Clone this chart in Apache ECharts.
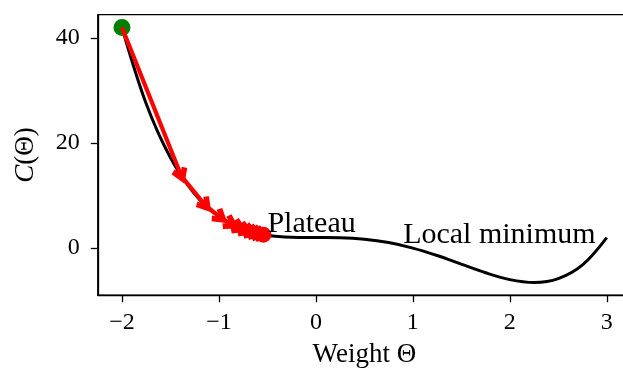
<!DOCTYPE html>
<html>
<head>
<meta charset="utf-8">
<script src="https://cdn.jsdelivr.net/npm/echarts@6/dist/echarts.min.js"></script>
<style>
  html, body { margin: 0; padding: 0; background: #fff; }
  #chart { width: 623px; height: 372px; }
</style>
</head>
<body>
<div id="chart"></div>
<script>
// Cost curve C(Θ), sampled along the weight axis
const curveTheta = [-2, -1.75, -1.5, -1.25, -1, -0.75, -0.5, -0.25, 0, 0.25, 0.5, 0.75, 1, 1.25, 1.5, 1.75, 2, 2.25, 2.5, 2.75, 3];
const curveCost  = [42, 27.46, 17.19, 10.30, 6, 3.58, 2.44, 2.05, 2, 1.96, 1.69, 1.05, 0, -1.42, -3.06, -4.70, -6, -6.54, -5.81, -3.20, 2];

// Gradient descent iterates (weight, cost)
const stepTheta = [-2, -1.388, -1.136, -0.979, -0.868, -0.783, -0.716, -0.661, -0.615, -0.576, -0.542];
const stepCost  = [42, 13.73, 8.06, 5.73, 4.53, 3.82, 3.36, 3.06, 2.84, 2.68, 2.56];

// Axis ticks
const xTicks = [-2, -1, 0, 1, 2, 3];
const yTicks = [0, 20, 40];

// Annotations
const notes = [
  { name: 'Plateau', theta: -0.5, cost: 3 },
  { name: 'Local minimum', theta: 0.9, cost: 1 }
];

const FONT = '"Liberation Serif", "Times New Roman", serif';

const curveData = curveTheta.map((t, i) => [t, curveCost[i]]);
const arrowData = [];
for (let i = 0; i < stepTheta.length - 1; i++) {
  arrowData.push({ coords: [[stepTheta[i], stepCost[i]], [stepTheta[i + 1], stepCost[i + 1]]] });
}
const last = stepTheta.length - 1;

const chart = echarts.init(document.getElementById('chart'), null, { renderer: 'canvas' });
chart.setOption({
  animation: false,
  backgroundColor: '#fff',
  grid: {
    left: 97.75, top: 14.7, width: 533.25, height: 280.5,
    containLabel: false, outerBoundsMode: 'none',
    show: true, borderColor: '#000', borderWidth: 1.3, backgroundColor: 'transparent'
  },
  xAxis: {
    type: 'value', min: -2.25, max: 3.25,
    name: 'Weight Θ', nameLocation: 'middle', nameGap: 46,
    nameTextStyle: { fontFamily: FONT, fontSize: 27, color: '#000' },
    axisLine: { show: true, onZero: false, lineStyle: { color: '#000', width: 1.3 } },
    axisTick: { show: true, length: 7, lineStyle: { color: '#000', width: 1.3 }, customValues: xTicks },
    axisLabel: {
      show: true, margin: 16, color: '#000', fontFamily: FONT, fontSize: 24,
      customValues: xTicks,
      formatter: v => String(v).replace('-', '\u2212')
    },
    splitLine: { show: false }
  },
  yAxis: {
    type: 'value', min: -8.97, max: 44.43,
    name: '{i|C}(Θ)', nameLocation: 'middle', nameGap: 58, nameRotate: 90,
    nameTextStyle: {
      fontFamily: FONT, fontSize: 27, color: '#000',
      rich: { i: { fontFamily: FONT, fontSize: 27, fontStyle: 'italic', color: '#000' } }
    },
    axisLine: { show: true, onZero: false, lineStyle: { color: '#000', width: 1.3 } },
    axisTick: { show: true, length: 7, lineStyle: { color: '#000', width: 1.3 }, customValues: yTicks },
    axisLabel: {
      show: true, margin: 18, color: '#000', fontFamily: FONT, fontSize: 24,
      customValues: yTicks
    },
    splitLine: { show: false }
  },
  series: [
    {
      type: 'line', data: curveData, smooth: 0.35, showSymbol: false, z: 2,
      lineStyle: { color: '#000', width: 3 }
    },
    {
      type: 'scatter', data: [[stepTheta[0], stepCost[0]]], symbolSize: 17, z: 3,
      itemStyle: { color: '#008000', opacity: 1 }
    },
    {
      type: 'lines', coordinateSystem: 'cartesian2d', data: arrowData, z: 4,
      symbol: ['none', 'path://M5,0 L10,7.6 L7.2,9.4 L5,5.8 L2.8,9.4 L0,7.6 Z'],
      symbolSize: 17,
      symbolOffset: [0, 7],
      lineStyle: { color: '#ff0000', width: 4.2, opacity: 1, curveness: 0 },
      itemStyle: { color: '#ff0000' }
    },
    {
      type: 'scatter', data: [[stepTheta[last], stepCost[last]]], symbolSize: 16, z: 5,
      itemStyle: { color: '#ff0000', opacity: 1 }
    },
    {
      type: 'scatter', symbolSize: 0, z: 6,
      data: notes.map(n => ({ name: n.name, value: [n.theta, n.cost] })),
      itemStyle: { opacity: 1 },
      label: {
        show: true, position: [0, 7], align: 'left', verticalAlign: 'bottom',
        formatter: p => p.name, color: '#000', fontFamily: FONT, fontSize: 30
      }
    }
  ]
});
</script>
</body>
</html>
